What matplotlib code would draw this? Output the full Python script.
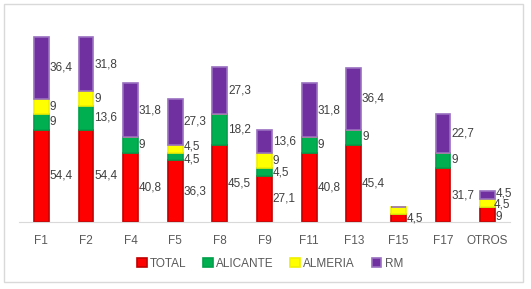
import matplotlib.pyplot as plt
from matplotlib.patches import Rectangle
import numpy as np

categories = ['F1', 'F2', 'F4', 'F5', 'F8', 'F9', 'F11', 'F13', 'F15', 'F17', 'OTROS']
total    = [54.4, 54.4, 40.8, 36.3, 45.5, 27.1, 40.8, 45.4, 4.5, 31.7, 9]
alicante = [9, 13.6, 9, 4.5, 18.2, 4.5, 9, 9, 0, 9, 0]
almeria  = [9, 9, 0, 4.5, 0, 9, 0, 0, 4.5, 0, 4.5]
rm       = [36.4, 31.8, 31.8, 27.3, 27.3, 13.6, 31.8, 36.4, 0, 22.7, 4.5]

series = [('TOTAL', total, '#ff0000', '#c00000'),
          ('ALICANTE', alicante, '#00b050', '#00a04a'),
          ('ALMERIA', almeria, '#ffff00', '#f0f000'),
          ('RM', rm, '#7030a0', '#9a70c0')]

# small nudges (data units) for labels that crowd each other, like the original
nudge = {('ALICANTE', 'F5'): -1.5, ('ALMERIA', 'F5'): 1.5,
         ('ALMERIA', 'OTROS'): -1.0, ('RM', 'OTROS'): 1.0, ('TOTAL', 'OTROS'): -1.5}

W, H = 531, 289
fig = plt.figure(figsize=(W / 100, H / 100), dpi=100)
fig.patches.append(Rectangle((4 / W, 1 - 282 / H), 519 / W, 278 / H, transform=fig.transFigure,
                             fill=False, edgecolor='#d9d9d9', lw=1))

# plot area in pixels: x 19-510, baseline y=222
ax = fig.add_axes([19 / W, 1 - 222 / H, 491 / W, 200 / H])
ax.set_xlim(-0.5, len(categories) - 0.5)
ax.set_ylim(0, 200 / 1.7)

x = np.arange(len(categories))
width = 0.33
bottom = np.zeros(len(categories))
for name, vals, color, edge in series:
    vals = np.array(vals, dtype=float)
    ax.bar(x, vals, width, bottom=bottom, color=color, edgecolor=edge, linewidth=1.2, label=name)
    for i, v in enumerate(vals):
        if v == 0:
            continue
        if name == 'ALMERIA' and categories[i] == 'F15':
            continue
        dx = 0.0
        if name == 'ALMERIA' and categories[i] == 'OTROS':
            dx = -0.06
        ax.text(x[i] + width / 2 + 0.02 + dx, bottom[i] + v / 2 + nudge.get((name, categories[i]), 0),
                ('%g' % v).replace('.', ','), ha='left', va='center', fontsize=8.5,
                color='#404040', family='Liberation Sans')
    bottom += vals

for s in ['top', 'right', 'left']:
    ax.spines[s].set_visible(False)
ax.spines['bottom'].set_color('#d9d9d9')
ax.set_yticks([])
ax.set_xticks(x)
ax.set_xticklabels(categories, fontsize=8.5, color='#595959', family='Liberation Sans')
ax.tick_params(axis='x', length=0, pad=9)

leg = fig.legend(loc='center', bbox_to_anchor=(270 / W, 1 - 264 / H), ncol=4, frameon=False,
                 prop={'family': 'Liberation Sans', 'size': 8.5}, handlelength=0.8, handleheight=0.8,
                 handletextpad=0.3, columnspacing=1.4)
for t in leg.get_texts():
    t.set_color('#595959')

fig.savefig('out.png', dpi=100)
